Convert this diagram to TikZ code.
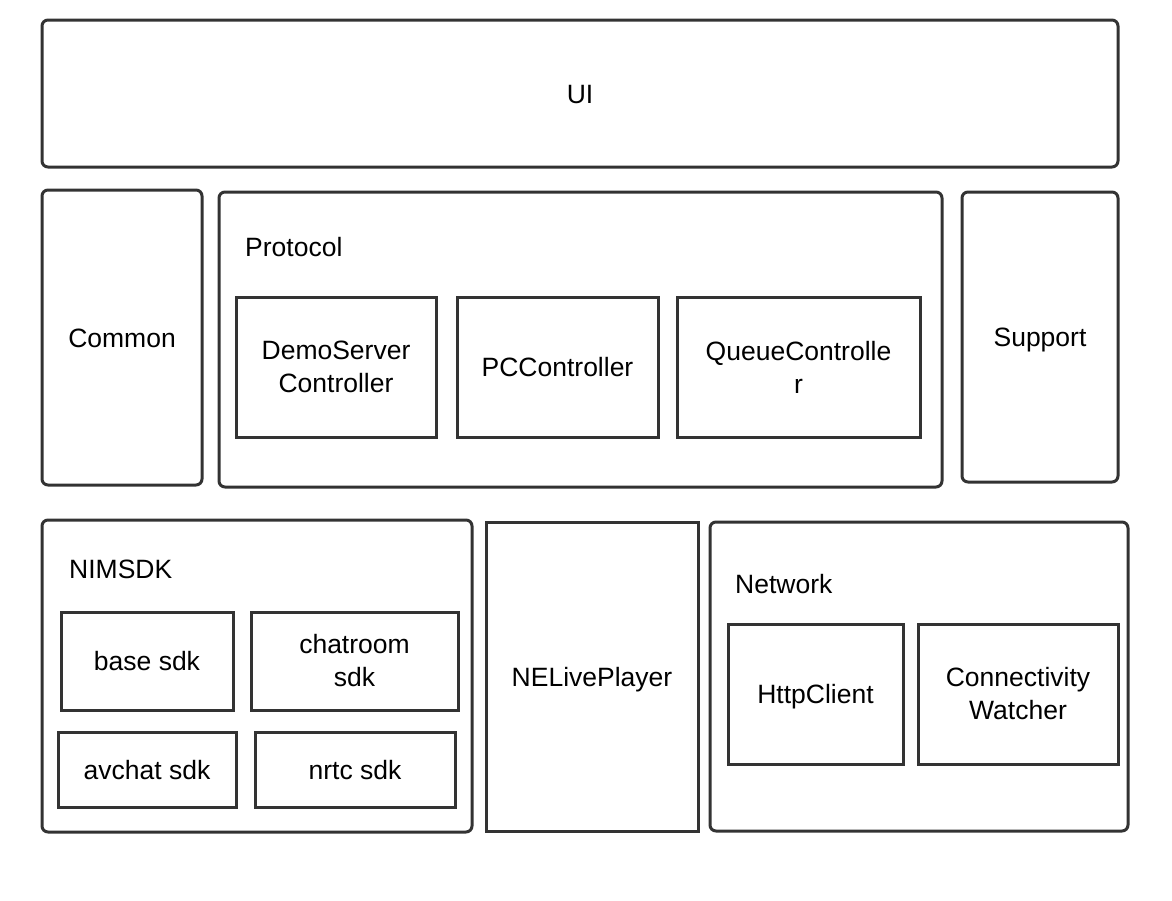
\documentclass[tikz,border=0pt]{standalone}
\usepackage{fontspec}
\setmainfont{Liberation Sans}
\definecolor{edge}{HTML}{333333}
\tikzset{
  base/.style={draw=edge, line width=3pt, inner sep=0pt, align=center,
    font=\fontsize{26.5}{33}\selectfont, text=black},
  oneline/.style={text height=19pt, text depth=0pt},
  rbox/.style={base, oneline, rounded corners=6pt},
  sbox/.style={base, oneline},
  mbox/.style={base},
  lbl/.style={anchor=west, inner sep=0pt, font=\fontsize{26.5}{33}\selectfont, text=black,
    text height=19pt, text depth=0pt}
}
\newcommand{\bx}[7]{\node[#1, minimum width=#4pt, minimum height=#5pt] (#2) at (#6,#7) {#3};}
\begin{document}
\begin{tikzpicture}[x=1pt,y=-1pt]
\useasboundingbox (0,0) rectangle (1172,900);
\bx{rbox}{ui}{UI}{1076}{147}{580}{93.5}
\bx{rbox}{common}{Common}{160}{295}{122}{337.5}
\bx{rbox}{protocol}{}{723}{295}{580.5}{339.5}
\bx{rbox}{support}{Support}{156}{290}{1040}{337}
\node[lbl] (protocollbl) at (245,247) {Protocol};
\bx{mbox}{demo}{DemoServer\\Controller}{200}{140}{336}{367}
\bx{sbox}{pc}{PCController}{201}{140}{557.5}{367}
\bx{mbox}{queue}{QueueControlle\\r}{243}{140}{798.5}{367}
\bx{rbox}{nimsdk}{}{430}{312}{257}{676}
\node[lbl] (nimsdklbl) at (69,569) {NIMSDK};
\bx{sbox}{basesdk}{base sdk}{172}{98}{147}{661}
\bx{mbox}{chatroom}{chatroom\\sdk}{207}{98}{354.5}{661}
\bx{sbox}{avchat}{avchat sdk}{178}{75}{147}{769.5}
\bx{sbox}{nrtc}{nrtc sdk}{200}{75}{355}{769.5}
\bx{sbox}{nelive}{NELivePlayer}{212}{309}{592}{676.5}
\bx{rbox}{network}{}{418}{309}{919}{676.5}
\node[lbl] (networklbl) at (735,584) {Network};
\bx{sbox}{http}{HttpClient}{175}{140}{815.5}{694}
\bx{mbox}{conn}{Connectivity\\Watcher}{200}{140}{1018}{694}
\end{tikzpicture}
\end{document}
